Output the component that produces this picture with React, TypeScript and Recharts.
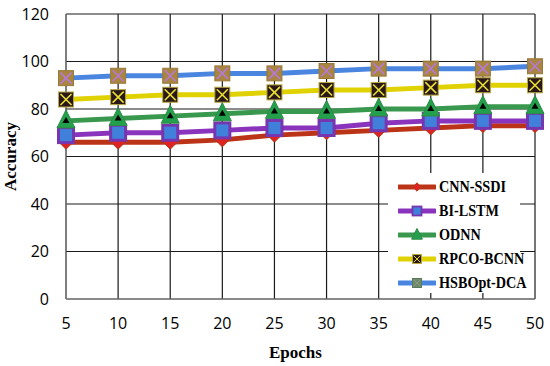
import React from 'react';
import { LineChart, Line, XAxis, YAxis, CartesianGrid } from 'recharts';

const epochs = [5, 10, 15, 20, 25, 30, 35, 40, 45, 50];
const cnnSsdi = [66, 66, 66, 67, 69, 70, 71, 72, 73, 73];
const biLstm = [69, 70, 70, 71, 72, 72, 74, 75, 75, 75];
const odnn = [75, 76, 77, 78, 79, 79, 80, 80, 81, 81];
const rpcoBcnn = [84, 85, 86, 86, 87, 88, 88, 89, 90, 90];
const hsbOptDca = [93, 94, 94, 95, 95, 96, 97, 97, 97, 98];
const xTicks = [5, 10, 15, 20, 25, 30, 35, 40, 45, 50];
const yTicks = [0, 20, 40, 60, 80, 100, 120];

const data = epochs.map((e, i) => ({
  epoch: e,
  cnn: cnnSsdi[i],
  bi: biLstm[i],
  odnn: odnn[i],
  rpco: rpcoBcnn[i],
  hsb: hsbOptDca[i],
}));

type MProps = { cx: number; cy: number; s?: number };

const Diamond = ({ cx, cy, s = 1 }: MProps) => {
  const r = 7 * s;
  return (
    <polygon
      points={`${cx},${cy - r} ${cx + r},${cy} ${cx},${cy + r} ${cx - r},${cy}`}
      fill="#E02222"
      stroke="#A8401A"
      strokeWidth={1}
    />
  );
};

const BlueSquare = ({ cx, cy, s = 1 }: MProps) => {
  const h = 7.5 * s;
  return (
    <rect x={cx - h} y={cy - h} width={2 * h} height={2 * h} fill="#4180DA" stroke="#7536B0" strokeWidth={3 * s} />
  );
};

const Triangle = ({ cx, cy, s = 1 }: MProps) => (
  <g>
    <polygon
      points={`${cx},${cy - 11 * s} ${cx + 9 * s},${cy + 7 * s} ${cx - 9 * s},${cy + 7 * s}`}
      fill="#22A04C"
      stroke="#2E8B47"
      strokeWidth={1}
    />
    {s >= 1 && (
      <polygon points={`${cx},${cy - 4} ${cx + 3.5},${cy + 2} ${cx - 3.5},${cy + 2}`} fill="#000" />
    )}
  </g>
);

const XSquare = ({ cx, cy, s = 1, fill, xColor, border }: MProps & { fill: string; xColor: string; border: string }) => {
  const h = 7.5 * s;
  const i = 2 * s;
  return (
    <g>
      <rect x={cx - h} y={cy - h} width={2 * h} height={2 * h} fill={fill} stroke={border} strokeWidth={1} />
      <line x1={cx - h + i} y1={cy - h + i} x2={cx + h - i} y2={cy + h - i} stroke={xColor} strokeWidth={1.6 * s} />
      <line x1={cx + h - i} y1={cy - h + i} x2={cx - h + i} y2={cy + h - i} stroke={xColor} strokeWidth={1.6 * s} />
    </g>
  );
};

const RpcoMark = (p: MProps) => <XSquare {...p} fill="#2A1818" xColor="#E8E030" border="#B8A840" />;
const HsbMark = (p: MProps) => <XSquare {...p} fill="#A88640" xColor="#B878D8" border="#9A7A3A" />;
const HsbLegendMark = (p: MProps) => <XSquare {...p} fill="#6E8A6A" xColor="#8A9A88" border="#5A7A5A" />;

const series = [
  { key: 'cnn', name: 'CNN-SSDI', color: '#BC3418', Mark: Diamond, LMark: Diamond },
  { key: 'bi', name: 'BI-LSTM', color: '#8A33BC', Mark: BlueSquare, LMark: BlueSquare },
  { key: 'odnn', name: 'ODNN', color: '#38984E', Mark: Triangle, LMark: Triangle },
  { key: 'rpco', name: 'RPCO-BCNN', color: '#E0D200', Mark: RpcoMark, LMark: RpcoMark },
  { key: 'hsb', name: 'HSBOpt-DCA', color: '#4A86E0', Mark: HsbMark, LMark: HsbLegendMark },
];

const tickStyle = { fontFamily: '"Open Sans", sans-serif', fontSize: 16, fill: '#000' };

export default function App() {
  return (
    <div style={{ position: 'absolute', left: 0, top: 0, width: 550, height: 366, background: '#fff' }}>
      <LineChart width={550} height={366} data={data} margin={{ top: 14, right: 15, left: 0, bottom: 0 }}>
        <CartesianGrid stroke="#1a1a1a" strokeWidth={1.2} />
        <XAxis
          dataKey="epoch"
          type="number"
          domain={[5, 50]}
          ticks={xTicks}
          height={67}
          tickSize={0}
          tickMargin={19}
          stroke="#888"
          tick={tickStyle}
          label={{
            value: 'Epochs',
            position: 'insideBottom',
            offset: 8,
            dx: -5,
            style: { fontFamily: '"Liberation Serif", serif', fontWeight: 'bold', fontSize: 17, fill: '#000' },
          }}
        />
        <YAxis
          type="number"
          domain={[0, 120]}
          ticks={yTicks}
          width={66}
          tickSize={0}
          tickMargin={17}
          stroke="#888"
          tick={tickStyle}
          label={{
            value: 'Accuracy',
            angle: -90,
            position: 'insideLeft',
            offset: 10,
            style: { fontFamily: '"Liberation Serif", serif', fontWeight: 'bold', fontSize: 17, fill: '#000', textAnchor: 'middle' },
          }}
        />
        {series.map((s) => {
          const M = s.Mark;
          return (
            <Line
              key={s.key}
              dataKey={s.key}
              name={s.name}
              stroke={s.color}
              strokeWidth={5}
              isAnimationActive={false}
              dot={(p: any) => <M key={`${s.key}-${p.index}`} cx={p.cx} cy={p.cy} />}
              activeDot={false}
            />
          );
        })}
      </LineChart>
      <div
        style={{
          position: 'absolute',
          left: 388,
          top: 173,
          width: 132,
          height: 120,
          background: '#fff',
        }}
      >
        {series.map((s, i) => {
          const LM = s.LMark;
          return (
            <div
              key={s.key}
              style={{ position: 'absolute', left: 10, top: 2 + i * 24, height: 24, display: 'flex', alignItems: 'center' }}
            >
              <svg width={38} height={24} style={{ display: 'block' }}>
                <line x1={1} y1={12} x2={37} y2={12} stroke={s.color} strokeWidth={5} strokeLinecap="round" />
                <LM cx={19} cy={12} s={0.6} />
              </svg>
              <span
                style={{
                  marginLeft: 3,
                  fontFamily: '"Liberation Serif", serif',
                  fontWeight: 'bold',
                  fontSize: 16.5,
                  color: '#000',
                  display: 'inline-block',
                  transform: 'scaleX(0.86)',
                  transformOrigin: 'left center',
                  whiteSpace: 'nowrap',
                }}
              >
                {s.name}
              </span>
            </div>
          );
        })}
      </div>
    </div>
  );
}
